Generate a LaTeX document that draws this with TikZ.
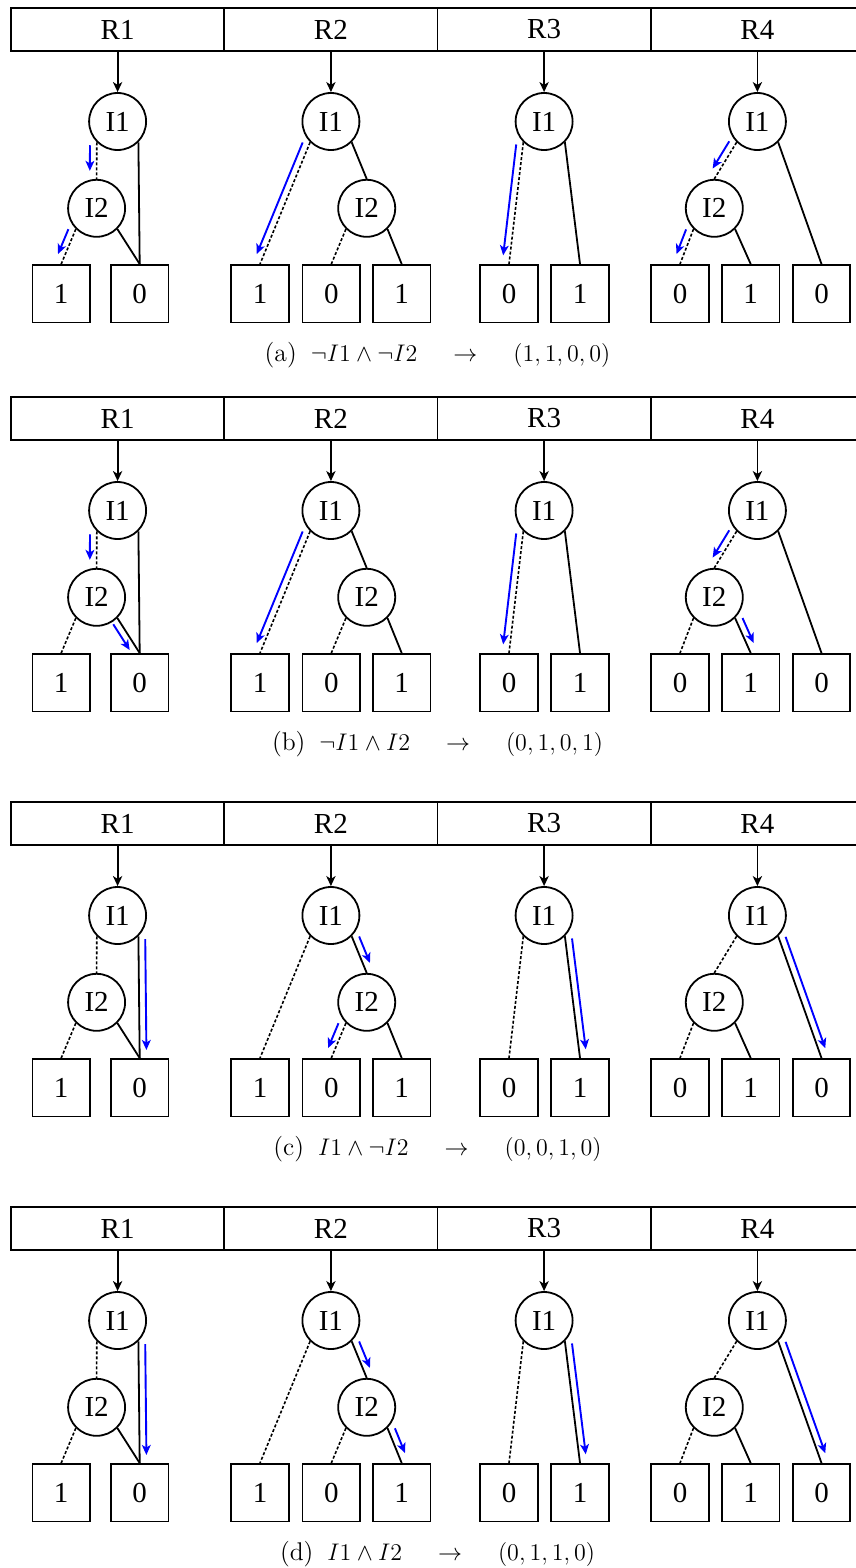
\documentclass[tikz,border=0pt]{standalone}
\usepackage{fontspec}
\newfontfamily\nodefont{Liberation Serif}
\usetikzlibrary{arrows.meta,calc}
\tikzset{
  cell/.style={draw, line width=0.9pt, minimum width=106.625pt, minimum height=21.2pt, inner sep=0pt, font=\nodefont\fontsize{14.5}{16}\selectfont},
  vnode/.style={draw, circle, line width=0.9pt, minimum size=28.5pt, inner sep=0pt, font=\nodefont\fontsize{14.5}{16}\selectfont},
  leaf/.style={draw, rectangle, line width=0.9pt, minimum size=28.75pt, inner sep=0pt, font=\nodefont\fontsize{14.5}{16}\selectfont},
  hi/.style={line width=0.9pt},
  lo/.style={line width=0.8pt, dash pattern=on 1.5pt off 1pt},
  down/.style={line width=0.9pt, -{Stealth[length=5pt,width=4.6pt,inset=1.4pt]}},
  flow/.style={blue, line width=0.95pt, -{Stealth[length=5pt,width=4.4pt,inset=1.3pt]}, shorten <=1.5pt, shorten >=4pt},
  capt/.style={anchor=base, inner sep=0pt, font=\fontsize{12.8}{15}\selectfont}
}
\newcommand\offd{3.4pt}
\newcommand\flowL[2]{\draw[flow] ($(#1)!\offd!-90:(#2)$) -- ($(#2)!\offd!90:(#1)$);}
\newcommand\flowR[2]{\draw[flow] ($(#1)!\offd!90:(#2)$) -- ($(#2)!\offd!-90:(#1)$);}
\newcommand\captxt[3]{(#1)\hspace{7pt}$#2$\hspace{18pt}$\rightarrow$\hspace{18pt}$#3$}
\newcommand\drawpanel[3]{%
\begin{scope}[shift={(0,#2)}]
  \node[cell] (#1-c1) at (117.6,29.5) {R1};
  \node[cell] (#1-c2) at (330.9,29.5) {R2};
  \node[cell] (#1-c3) at (544.1,29.5) {R3};
  \node[cell] (#1-c4) at (757.4,29.5) {R4};
  % R1
  \node[vnode] (#1-r1-i1) at (117.6,121.5) {I1};
  \node[vnode] (#1-r1-i2) at (96.6,208.3) {I2};
  \node[leaf] (#1-r1-l1) at (61.2,293.7) {1};
  \node[leaf] (#1-r1-l2) at (139.7,293.7) {0};
  \draw[down] (#1-c1.south) -- (#1-r1-i1.north);
  \draw[lo] (#1-r1-i1.south west) -- (#1-r1-i2.north);
  \draw[hi] (#1-r1-i1.south east) -- (#1-r1-l2.north);
  \draw[lo] (#1-r1-i2.south west) -- (#1-r1-l1.north);
  \draw[hi] (#1-r1-i2.south east) -- (#1-r1-l2.north);
  % R2
  \node[vnode] (#1-r2-i1) at (330.9,121.5) {I1};
  \node[vnode] (#1-r2-i2) at (366.7,208.3) {I2};
  \node[leaf] (#1-r2-l1) at (260,293.7) {1};
  \node[leaf] (#1-r2-l2) at (331.3,293.7) {0};
  \node[leaf] (#1-r2-l3) at (401.7,293.7) {1};
  \draw[down] (#1-c2.south) -- (#1-r2-i1.north);
  \draw[lo] (#1-r2-i1.south west) -- (#1-r2-l1.north);
  \draw[hi] (#1-r2-i1.south east) -- (#1-r2-i2.north);
  \draw[lo] (#1-r2-i2.south west) -- (#1-r2-l2.north);
  \draw[hi] (#1-r2-i2.south east) -- (#1-r2-l3.north);
  % R3
  \node[vnode] (#1-r3-i1) at (544.1,121.5) {I1};
  \node[leaf] (#1-r3-l1) at (509,293.7) {0};
  \node[leaf] (#1-r3-l2) at (580,293.7) {1};
  \draw[down] (#1-c3.south) -- (#1-r3-i1.north);
  \draw[lo] (#1-r3-i1.south west) -- (#1-r3-l1.north);
  \draw[hi] (#1-r3-i1.south east) -- (#1-r3-l2.north);
  % R4
  \node[vnode] (#1-r4-i1) at (757.4,121.5) {I1};
  \node[vnode] (#1-r4-i2) at (714.3,208.3) {I2};
  \node[leaf] (#1-r4-l1) at (680,293.7) {0};
  \node[leaf] (#1-r4-l2) at (750.7,293.7) {1};
  \node[leaf] (#1-r4-l3) at (821.5,293.7) {0};
  \draw[down] (#1-c4.south) -- (#1-r4-i1.north);
  \draw[lo] (#1-r4-i1.south west) -- (#1-r4-i2.north);
  \draw[hi] (#1-r4-i1.south east) -- (#1-r4-l3.north);
  \draw[lo] (#1-r4-i2.south west) -- (#1-r4-l1.north);
  \draw[hi] (#1-r4-i2.south east) -- (#1-r4-l2.north);
  % caption
  \node[capt] (#1-cap) at (437.5,361) {#3};
\end{scope}}
\begin{document}
\begin{tikzpicture}[x=0.5pt,y=-0.5pt]
\useasboundingbox (0,0) rectangle (856,1568);
\clip (0,0) rectangle (856,1568);
\drawpanel{a}{0}{\captxt{a}{\neg I1\wedge\neg I2}{(1,1,0,0)}}
\drawpanel{b}{389}{\captxt{b}{\neg I1\wedge I2}{(0,1,0,1)}}
\drawpanel{c}{794}{\captxt{c}{I1\wedge\neg I2}{(0,0,1,0)}}
\drawpanel{d}{1199}{\captxt{d}{I1\wedge I2}{(0,1,1,0)}}
% flows (a)
\flowL{a-r1-i1.south west}{a-r1-i2.north}
\flowL{a-r1-i2.south west}{a-r1-l1.north}
\flowL{a-r2-i1.south west}{a-r2-l1.north}
\flowL{a-r3-i1.south west}{a-r3-l1.north}
\flowL{a-r4-i1.south west}{a-r4-i2.north}
\flowL{a-r4-i2.south west}{a-r4-l1.north}
% flows (b)
\flowL{b-r1-i1.south west}{b-r1-i2.north}
\flowL{b-r1-i2.south east}{b-r1-l2.north}
\flowL{b-r2-i1.south west}{b-r2-l1.north}
\flowL{b-r3-i1.south west}{b-r3-l1.north}
\flowL{b-r4-i1.south west}{b-r4-i2.north}
\flowR{b-r4-i2.south east}{b-r4-l2.north}
% flows (c)
\flowR{c-r1-i1.south east}{c-r1-l2.north}
\flowR{c-r2-i1.south east}{c-r2-i2.north}
\flowL{c-r2-i2.south west}{c-r2-l2.north}
\flowR{c-r3-i1.south east}{c-r3-l2.north}
\flowR{c-r4-i1.south east}{c-r4-l3.north}
% flows (d)
\flowR{d-r1-i1.south east}{d-r1-l2.north}
\flowR{d-r2-i1.south east}{d-r2-i2.north}
\flowR{d-r2-i2.south east}{d-r2-l3.north}
\flowR{d-r3-i1.south east}{d-r3-l2.north}
\flowR{d-r4-i1.south east}{d-r4-l3.north}
\end{tikzpicture}
\end{document}
